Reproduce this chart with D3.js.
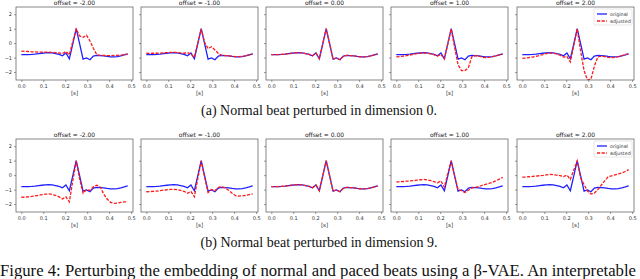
<!DOCTYPE html>
<html>
<head>
<meta charset="utf-8">
<style>
  body { margin: 0; background: #fff; }
  svg { display: block; }
</style>
</head>
<body>
<svg id="svg" width="640" height="279"></svg>
<script src="https://d3js.org/d3.v7.min.js"></script>
<script>
  // time axis [s], 32 samples
  const time = d3.range(32).map(i => i / 64)
  const offsets = [-2, -1, 0, 1, 2]
  const xTicks = [0, 0.1, 0.2, 0.3, 0.4, 0.5]
  const yTicks = [-2, -1, 0, 1, 2]

  const original = [-0.80,-0.80,-0.79,-0.78,-0.76,-0.73,-0.70,-0.67,-0.65,-0.68,-0.72,-0.78,-0.88,-0.68,-1.08,-0.05,
    1.00,-0.05,-1.10,-1.02,-1.15,-0.90,-0.85,-0.86,-0.88,-0.92,-0.95,-0.95,-0.93,-0.88,-0.82,-0.75]

  // adjusted beats, dimension 0, one row per offset
  const dim0Adjusted = [
    [-0.55,-0.57,-0.58,-0.60,-0.61,-0.62,-0.62,-0.62,-0.62,-0.64,-0.66,-0.68,-0.72,-0.58,-0.80,0.10,
      0.98,0.50,0.40,0.55,0.15,-0.35,-0.80,-0.85,-0.85,-0.86,-0.86,-0.85,-0.84,-0.83,-0.80,-0.76],
    [-0.70,-0.71,-0.70,-0.70,-0.69,-0.67,-0.66,-0.64,-0.63,-0.65,-0.68,-0.70,-0.65,-0.75,-0.98,0.00,
      0.98,0.05,-0.38,-0.25,-0.48,-0.72,-0.85,-0.86,-0.88,-0.91,-0.93,-0.93,-0.91,-0.87,-0.81,-0.75],
    [-0.80,-0.80,-0.79,-0.78,-0.76,-0.73,-0.70,-0.67,-0.65,-0.68,-0.72,-0.78,-0.88,-0.68,-1.08,-0.05,
      1.00,-0.05,-1.10,-1.02,-1.15,-0.90,-0.85,-0.86,-0.88,-0.92,-0.95,-0.95,-0.93,-0.88,-0.82,-0.75],
    [-0.95,-0.93,-0.90,-0.86,-0.82,-0.77,-0.73,-0.70,-0.68,-0.70,-0.74,-0.80,-0.90,-0.78,-1.10,-0.05,
      0.98,-0.30,-1.50,-1.90,-1.90,-1.70,-0.95,-0.86,-0.90,-0.97,-1.00,-0.98,-0.94,-0.88,-0.82,-0.76],
    [-1.06,-1.04,-1.00,-0.96,-0.91,-0.85,-0.79,-0.72,-0.68,-0.70,-0.75,-0.83,-0.97,-0.92,-1.30,-0.15,
      0.98,-0.55,-1.90,-2.55,-2.50,-1.60,-0.95,-0.90,-0.93,-0.98,-1.00,-0.98,-0.93,-0.86,-0.80,-0.73]
  ]

  // adjusted beats, dimension 9
  const dim9Adjusted = [
    [-1.53,-1.52,-1.50,-1.47,-1.43,-1.39,-1.35,-1.32,-1.30,-1.34,-1.40,-1.50,-1.65,-1.50,-1.85,-0.40,
      0.98,-0.25,-1.25,-1.00,-1.05,-0.80,-0.70,-0.82,-1.30,-1.65,-1.88,-1.95,-1.93,-1.88,-1.85,-1.85],
    [-1.15,-1.14,-1.12,-1.10,-1.07,-1.04,-1.01,-0.99,-0.98,-1.01,-1.06,-1.12,-1.25,-1.12,-1.50,-0.25,
      0.98,-0.15,-1.20,-1.00,-1.08,-0.85,-0.80,-0.88,-1.05,-1.25,-1.42,-1.45,-1.43,-1.40,-1.35,-1.30],
    [-0.80,-0.80,-0.79,-0.78,-0.76,-0.73,-0.70,-0.67,-0.65,-0.68,-0.72,-0.78,-0.88,-0.68,-1.08,-0.05,
      1.00,-0.05,-1.10,-1.02,-1.15,-0.90,-0.85,-0.86,-0.88,-0.92,-0.95,-0.95,-0.93,-0.88,-0.82,-0.75],
    [-0.47,-0.46,-0.44,-0.42,-0.40,-0.38,-0.35,-0.32,-0.30,-0.33,-0.38,-0.45,-0.53,-0.40,-0.84,0.10,
      0.98,-0.05,-1.00,-1.08,-1.20,-1.05,-0.88,-0.85,-0.80,-0.70,-0.64,-0.57,-0.50,-0.40,-0.28,-0.16],
    [-0.14,-0.13,-0.11,-0.09,-0.07,-0.04,-0.02,0.02,0.05,0.03,0.00,-0.03,-0.10,0.00,-0.30,0.35,
      0.98,-0.20,-0.65,-1.10,-1.30,-1.25,-1.00,-0.70,-0.40,-0.12,-0.05,0.02,0.08,0.15,0.25,0.38]
  ]

  const rows = [
    { adjusted: dim0Adjusted, top: 7, caption: '(a) Normal beat perturbed in dimension 0.' },
    { adjusted: dim9Adjusted, top: 139, caption: '(b) Normal beat perturbed in dimension 9.' }
  ]

  const panelW = 117
  const panelH = 73
  const panelLefts = [16, 141, 266, 391, 517]

  const svg = d3.select('#svg')

  const xscale = d3.scaleLinear().domain([-0.0242, 0.5086]).range([0, panelW])
  const yscale = d3.scaleLinear().domain([-2.55, 2.5]).range([panelH, 0])

  const linegen = d3.line()
    .x((d, i) => xscale(time[i]))
    .y(d => yscale(d))

  const minus = s => s.replace('-', '\u2212')

  rows.forEach((row, r) => {
    offsets.forEach((off, p) => {
      const g = svg.append('g')
        .attr('transform', `translate(${panelLefts[p]}, ${row.top})`)

      const clipId = `clip-${r}-${p}`
      g.append('clipPath').attr('id', clipId)
        .append('rect').attr('width', panelW).attr('height', panelH)

      const lines = g.append('g').attr('clip-path', `url(#${clipId})`)
      lines.append('path')
        .attr('d', linegen(original))
        .attr('fill', 'none')
        .attr('stroke', '#1f1fff')
        .attr('stroke-width', 1.3)
      lines.append('path')
        .attr('d', linegen(row.adjusted[p]))
        .attr('fill', 'none')
        .attr('stroke', '#ff1a1a')
        .attr('stroke-width', 1.3)
        .attr('stroke-dasharray', '3.2,1.4')

      // axes
      const bottomAxis = d3.axisBottom(xscale)
        .tickValues(xTicks)
        .tickSize(2)
        .tickPadding(2)
        .tickFormat(d3.format('.1f'))
      const leftAxis = d3.axisLeft(yscale)
        .tickValues(yTicks)
        .tickSize(2)
        .tickPadding(2)
        .tickFormat(p === 0 ? d => minus(String(d)) : '')

      const gx = g.append('g')
        .attr('transform', `translate(0, ${panelH})`)
        .call(bottomAxis)
      const gy = g.append('g').call(leftAxis)
      ;[gx, gy].forEach(a => {
        a.select('.domain').remove()
        a.selectAll('line').attr('stroke', '#555').attr('stroke-width', 0.6)
        a.selectAll('text')
          .attr('font-family', 'DejaVu Sans')
          .attr('font-size', 5)
          .attr('fill', '#333')
      })

      g.append('rect')
        .attr('width', panelW)
        .attr('height', panelH)
        .attr('fill', 'none')
        .attr('stroke', '#555')
        .attr('stroke-width', 0.7)

      g.append('text')
        .attr('x', panelW / 2)
        .attr('y', panelH + 15)
        .attr('text-anchor', 'middle')
        .attr('font-family', 'DejaVu Sans')
        .attr('font-size', 5.5)
        .attr('fill', '#333')
        .text('[s]')

      g.append('text')
        .attr('x', panelW / 2)
        .attr('y', -2)
        .attr('text-anchor', 'middle')
        .attr('font-family', 'DejaVu Sans')
        .attr('font-size', 6)
        .attr('fill', '#222')
        .text(`offset = ${off.toFixed(2)}`)

      if (p === offsets.length - 1) {
        const lg = g.append('g').attr('transform', `translate(${panelW - 40}, 2)`)
        lg.append('rect')
          .attr('width', 38).attr('height', 16)
          .attr('fill', '#fff').attr('stroke', '#ccc').attr('stroke-width', 0.5).attr('rx', 1)
        const items = [['original', '#1f1fff', null], ['adjusted', '#ff1a1a', '3.2,1.4']]
        items.forEach(([name, color, dash], k) => {
          const yy = 5 + k * 7
          lg.append('line')
            .attr('x1', 3).attr('x2', 13).attr('y1', yy).attr('y2', yy)
            .attr('stroke', color).attr('stroke-width', 1.3)
            .attr('stroke-dasharray', dash)
          lg.append('text')
            .attr('x', 16).attr('y', yy + 1.7)
            .attr('font-family', 'DejaVu Sans').attr('font-size', 4.8)
            .attr('fill', '#333')
            .text(name)
        })
      }
    })

    svg.append('text')
      .attr('x', 319)
      .attr('y', row.top + panelH + 35)
      .attr('text-anchor', 'middle')
      .attr('font-family', 'Liberation Serif')
      .attr('font-size', 14)
      .attr('fill', '#111')
      .text(row.caption)
  })

  svg.append('text')
    .attr('x', 0)
    .attr('y', 276)
    .attr('font-family', 'Liberation Serif')
    .attr('font-size', 16)
    .attr('textLength', 636)
    .attr('lengthAdjust', 'spacingAndGlyphs')
    .attr('fill', '#111')
    .text('Figure 4: Perturbing the embedding of normal and paced beats using a \u03b2-VAE. An interpretable')
</script>
</body>
</html>
